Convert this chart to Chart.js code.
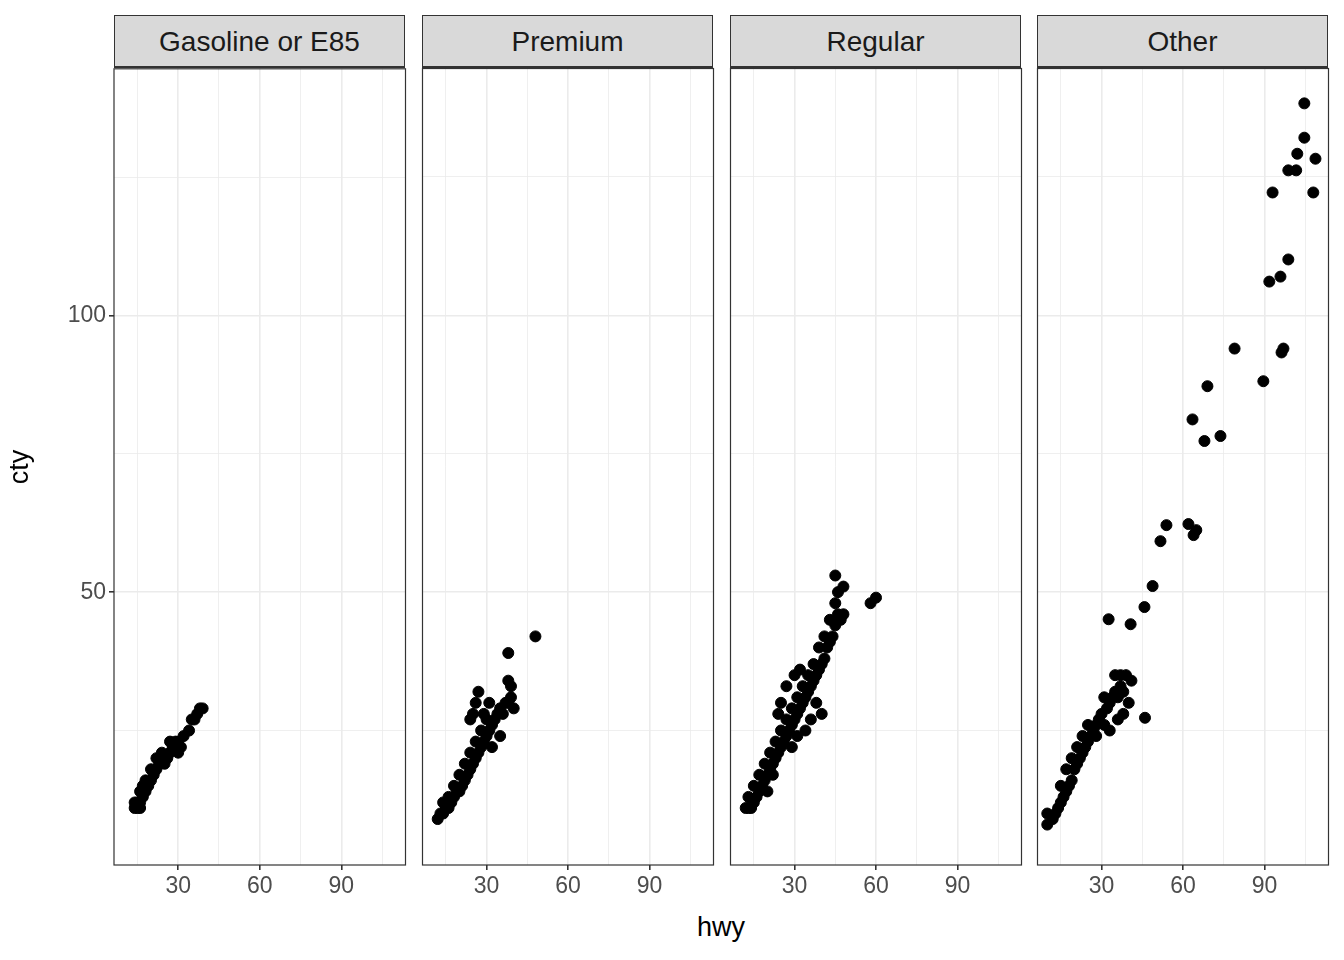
<!DOCTYPE html>
<html>
<head>
<meta charset="utf-8">
<script src="https://cdn.jsdelivr.net/npm/chart.js@4"></script>
<style>
  body { margin: 0; background: #fff; font-family: "Liberation Sans", Arial, sans-serif; }
  #wrap { position: relative; width: 1344px; height: 960px; overflow: hidden; }
  canvas { position: absolute; }
  .strip { position: absolute; top: 15px; height: 53px; background: #d9d9d9; border: 1px solid #333;
           border-bottom: 2px solid #333; box-sizing: border-box; text-align: center; line-height: 52px;
           font-size: 28px; color: #1a1a1a; }
  #hwy { position: absolute; top: 912px; left: 0; width: 1442px; text-align: center; font-size: 27px; color: #000; }
</style>
</head>
<body>
<div id="wrap">
  <div id="hwy">hwy</div>
</div>
<script>
const panels = ["Gasoline or E85", "Premium", "Regular", "Other"];

const gasHwy = [14,15,16,14,15,16,17,16,18,17,19,18,20,21,20,22,23,22,24,25,26,24,27,28,27,29,30,31,30,32,34,35,36,37,38,39];
const gasCty = [11,11,11,12,12,12,13,14,14,15,15,16,16,17,18,18,19,20,20,19,20,21,21,22,23,23,23,22,21,24,25,27,27,28,29,29];

const premHwy = [12,13,14,15,16,14,17,18,16,19,20,18,21,22,20,23,24,22,25,26,24,27,28,26,29,30,28,31,32,30,33,34,36,35,37,38,39,40,38,39,38,48,27,26,25,24,32,35,29,31];
const premCty = [9,10,10,11,11,12,12,13,13,14,14,15,15,16,17,17,18,19,19,20,21,21,22,23,23,24,25,25,26,27,27,28,28,29,30,30,31,29,34,33,39,42,32,30,28,27,22,24,28,30];

const regHwy = [12,13,14,15,13,16,17,15,18,19,17,20,21,19,22,23,21,24,25,23,26,27,25,28,29,27,30,31,29,32,33,31,34,35,33,36,37,35,38,39,37,40,41,39,42,43,41,44,45,43,46,45,46,45,48,47,48,58,60,25,24,27,30,32,38,40,34,36,29,31,22,20];
const regCty = [11,11,11,12,13,13,14,15,15,16,17,17,18,19,19,20,21,21,22,23,23,24,25,25,26,27,27,28,29,29,30,31,31,32,33,33,34,35,35,36,37,37,38,40,40,41,42,42,44,45,46,48,50,53,51,45,46,48,49,30,28,33,35,36,30,28,25,27,22,24,17,14];

const othHwy = [10,10,12,13,14,15,16,17,15,18,19,17,20,21,19,22,23,21,24,25,23,26,27,25,28,29,31,30,32,33,31,34,35,36,37,38,35,37,39,41,28,33,36,40,38,
  46,32.6,40.7,45.8,48.8,51.7,53.9,62,64.9,63.9,67.9,73.8,63.5,69,79,89.6,97,96.3,91.8,95.9,98.8,93,108,98.8,101.7,104.7,102.1,108.8,104.7];
const othCty = [8,10,9,10,11,12,13,14,15,15,16,18,18,19,20,20,21,22,22,23,24,24,25,26,26,27,26,28,29,30,31,31,32,31,33,32,35,35,35,34,24,25,27,30,28,
  27.3,45.1,44.2,47.3,51.1,59.2,62.1,62.3,61.2,60.3,77.3,78.2,81.2,87.2,94,88.1,94,93.3,106.1,107,110.1,122.2,122.2,126.2,126.2,132.1,129.2,128.3,138.3];

const hwyData = [gasHwy, premHwy, regHwy, othHwy];
const ctyData = [gasCty, premCty, regCty, othCty];

const xMin = 6.4, xMax = 113.6, yMin = 0.7, yMax = 144.6;
const panelLeft = [114, 422, 730, 1037];
const panelW = 291, panelTop = 68, panelH = 797;

// chart.js keeps a little space round the plot area; these offsets undo it
const insetLeft = [0, 6, 6, 6];
const insetRight = 7;
const insetTop = [16, 6, 6, 6];

const borderPlugin = {
  id: "panelBorder",
  afterDraw(chart) {
    const a = chart.chartArea, c = chart.ctx;
    c.save(); c.strokeStyle = "#333"; c.lineWidth = 1.2;
    c.strokeRect(a.left, a.top, a.right - a.left, a.bottom - a.top);
    c.restore();
  }
};

const wrap = document.getElementById("wrap");
panels.forEach((name, i) => {
  const strip = document.createElement("div");
  strip.className = "strip";
  strip.style.left = panelLeft[i] + "px";
  strip.style.width = panelW + "px";
  strip.textContent = name;
  wrap.appendChild(strip);

  const first = i === 0;
  const cv = document.createElement("canvas");
  const left = (first ? 0 : panelLeft[i]) - insetLeft[i];
  const w = (first ? panelLeft[i] + panelW : panelW) + insetLeft[i] + insetRight;
  const top = panelTop - insetTop[i];
  const h = panelH + 40 + insetTop[i];
  cv.style.left = left + "px";
  cv.style.top = top + "px";
  cv.style.width = w + "px";
  cv.style.height = h + "px";
  cv.width = w; cv.height = h;
  wrap.appendChild(cv);

  const pts = hwyData[i].map((x, k) => ({ x: x, y: ctyData[i][k] }));
  new Chart(cv, {
    type: "scatter",
    data: { datasets: [{ data: pts, backgroundColor: "#000", borderColor: "#000", pointRadius: 5.5, pointHoverRadius: 5.5 }] },
    plugins: [borderPlugin],
    options: {
      responsive: false, animation: false,
      plugins: { legend: { display: false }, tooltip: { enabled: false } },
      scales: {
        x: {
          type: "linear", min: xMin, max: xMax,
          afterBuildTicks(s) { s.ticks = [15,30,45,60,75,90,105].map(v => ({ value: v })); },
          ticks: { autoSkip: false, maxRotation: 0, color: "#4d4d4d", font: { size: 23, family: "Liberation Sans" },
                   callback: v => (v % 30 === 0 ? v : "") },
          grid: { color: "#ebebeb", lineWidth: c => (c.tick && c.tick.value % 30 === 0 ? 1.6 : 0.8),
                  tickColor: c => (c.tick && c.tick.value % 30 === 0 ? "#333" : "rgba(0,0,0,0)"), tickLength: 5 },
          border: { display: false },
          afterFit(s) { s.height = 40; }
        },
        y: {
          type: "linear", min: yMin, max: yMax,
          afterBuildTicks(s) { s.ticks = [25,50,75,100,125].map(v => ({ value: v })); },
          ticks: { display: first, color: "#4d4d4d", font: { size: 23, family: "Liberation Sans" },
                   callback: v => (v % 50 === 0 ? v : "") },
          title: { display: first, text: "cty", color: "#000", font: { size: 27, family: "Liberation Sans" } },
          grid: { color: "#ebebeb", lineWidth: c => (c.tick && c.tick.value % 50 === 0 ? 1.6 : 0.8),
                  tickColor: c => (first && c.tick && c.tick.value % 50 === 0 ? "#333" : "rgba(0,0,0,0)"),
                  tickLength: first ? 5 : 0 },
          border: { display: false },
          afterFit(s) { s.width = first ? panelLeft[0] : 0; }
        }
      }
    }
  });
});
</script>
</body>
</html>
